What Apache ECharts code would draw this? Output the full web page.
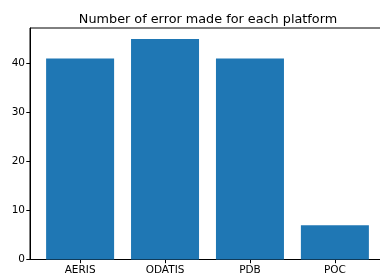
<!DOCTYPE html>
<html><head><meta charset="utf-8">
<script src="https://cdn.jsdelivr.net/npm/echarts@6/dist/echarts.min.js"></script>
<style>html,body{margin:0;padding:0;background:#fff}#c{width:380px;height:276px}</style>
</head><body><div id="c"></div>
<script>
const categories = ['AERIS', 'ODATIS', 'PDB', 'POC'];
const errors = [41, 45, 41, 7];
const yTicks = [0, 10, 20, 30, 40];
const title = 'Number of error made for each platform';

const chart = echarts.init(document.getElementById('c'), null, {renderer: 'canvas'});
const font = 'DejaVu Sans';
chart.setOption({
  animation: false,
  title: {
    text: title, left: 203, textAlign: 'center', top: 8,
    textStyle: {fontFamily: font, fontSize: 12.8, fontWeight: 'normal', color: '#000'}
  },
  grid: {left: 30, width: 355, top: 28, height: 231.5, outerBoundsMode: 'none', containLabel: false,
    show: true, borderColor: '#000', borderWidth: 1, backgroundColor: 'transparent'},
  xAxis: {
    type: 'value', min: -0.59, max: 3.59,
    axisLine: {show: true, onZero: false, lineStyle: {color: '#000', width: 1}},
    splitLine: {show: false},
    axisTick: {show: true, length: 3.7, lineStyle: {color: '#000'}, customValues: categories.map((_, i) => i)},
    axisLabel: {
      customValues: categories.map((_, i) => i),
      formatter: v => categories[Math.round(v)] || '',
      fontFamily: font, fontSize: 10.5, color: '#000', margin: 5
    }
  },
  yAxis: {
    type: 'value', min: 0, max: 47.25,
    axisLine: {show: true, onZero: false, lineStyle: {color: '#000', width: 1}},
    splitLine: {show: false},
    axisTick: {show: true, length: 3.7, lineStyle: {color: '#000'}, customValues: yTicks},
    axisLabel: {customValues: yTicks, fontFamily: font, fontSize: 10.5, color: '#000', margin: 5}
  },
  series: [{
    type: 'bar',
    data: errors.map((v, i) => [i, v]),
    barWidth: 68,
    itemStyle: {color: '#1f77b4'}
  }]
});
</script></body></html>
